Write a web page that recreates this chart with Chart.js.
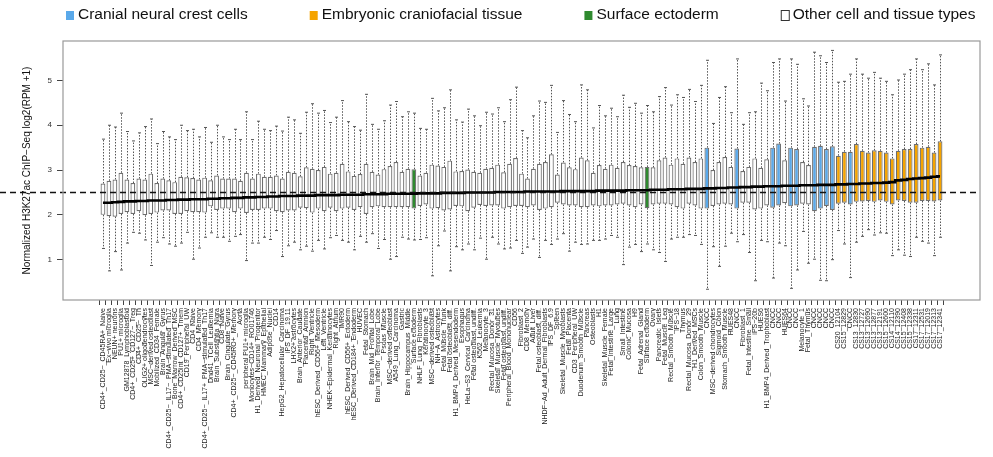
<!DOCTYPE html>
<html>
<head>
<meta charset="utf-8">
<script src="https://cdn.jsdelivr.net/npm/chart.js@4.4.1/dist/chart.umd.min.js"></script>
<style>
  html, body { margin: 0; padding: 0; background: #fff; }
</style>
</head>
<body>
<canvas id="boxChart" width="993" height="457"></canvas>
<script>
const categories = [
  'CD4+_CD25-_CD45RA+_Naive', 'Ex-vivo microglia', 'NEUN+ neurons', 'PU1+ microglia', 'GM12878_Lymphoblastoid',
  'CD4+_CD25+_CD127-_Treg', 'CD4+_CD25-_Th', 'OLIG2+ oligodendrocytes', 'MSC-derived osteoblast', 'Mobilized_CD34_Female',
  'Brain_Angular_Gyrus', 'CD4+_CD25-_IL17-_PMA-stimulated_Th17', 'Bone_Marrow_Derived_MSC', 'CD4+_CD25int_CD127+_Tmem', 'CD19_Peripheral_UW',
  'CD4_Naive', 'CD4_Memory', 'CD4+_CD25-_IL17+_PMA-stimulated_Th17', 'Dnd41_TCell_Leukemia', 'Brain_Substantia_Nigra',
  'CD8_Naive', 'Brain_Cingulate_Gyrus', 'CD4+_CD25-_CD45RO+_Memory', 'Aorta', 'peripheral PU1+ microglia',
  'Monocytes-CD14+_RO01746', 'H1_Derived_Neuronal_Progenitor', 'HMEC_Mammary_Epithelial', 'Adipose_Nuclei', 'CD14',
  'HepG2_Hepatocellular_Carcinoma', 'iPS_DF_19.11', 'LHX2+ astrocytes', 'Brain_Anterior_Caudate', 'Placental_Amnion',
  'Right_Ventricle', 'hESC_Derived_CD56+_Mesoderm', 'Left_Ventricle', 'NHEK-Epidermal_Keratinocytes', 'Right_Atrium',
  'IMR90', 'hESC_Derived_CD56+_Ectoderm', 'hESC_Derived_CD184+_Endoderm', 'HUVEC', 'Fetal_Stomach',
  'Brain_Mid_Frontal_Lobe', 'Brain_Inferior_Temporal_Lobe', 'Psoas_Muscle', 'MSC-derived osteoblast', 'A549_Lung_Carcinoma',
  'Gastric', 'Brain_Hippocampus_Middle', 'Surface ectoderm', 'NHLF_Lung_Fibroblasts', 'Keratinocyte_3',
  'MSC-derived osteoblast', 'NH-A_Astrocytes', 'Fetal_Muscle_Trunk', 'Fetal osteoblast, diff.', 'H1_BMP4_Derived_Mesendoderm',
  'Esophagus', 'HeLa-S3_Cervical_Carcinoma', 'Fetal osteoblast, undiff.', 'K562_Leukemia', 'Melanocyte_3',
  'Rectal_Mucosa_Donor_31', 'Skeletal_Muscle_Myotubes', 'Fetal osteoblast, undiff.', 'Peripheral_Blood_Mononuclear', 'CD56',
  'Fibroblast_2', 'CD8_Memory', 'Adult_Liver', 'Fetal osteoblast, diff.', 'NHDF-Ad_Adult_Dermal_Fibroblasts',
  'iPS_DF_6.9', 'Spleen', 'Skeletal_Muscle_Myoblasts', 'Fetal_Placenta', 'CD3_Peripheral_UW',
  'Duodenum_Smooth_Muscle', 'Pancreas', 'Osteoblasts', 'H1', 'Skeletal_Muscle_Female',
  'Fetal_Intestine_Large', 'Lung', 'Small_Intestine', 'Colonic_Mucosa', 'H9',
  'Fetal_Adrenal_Gland', 'Surface ectoderm', 'Ovary', 'Pancreatic_Islets', 'Fetal_Muscle_Leg',
  'Rectal_Smooth_Muscle', 'iPS-18', 'Thymus', 'Rectal_Mucosa_Donor_29', 'H1_Derived_MSCs',
  'Colon_Smooth_Muscle', 'CNCC', 'MSC-derived chondrocytes', 'Sigmoid_Colon', 'Stomach_Smooth_Muscle',
  'HUES48', 'CNCC', 'Fibroblast_1', 'Fetal_Intestine_Small', 'iPS-20b',
  'HUES6', 'H1_BMP4_Derived_Trophoblast', 'CNCC', 'CNCC', 'HUES64',
  'CNCC', 'CNCC', 'Melanocyte_1', 'Fetal_Thymus', 'CNCC',
  'CNCC', 'CNCC', 'CNCC', 'CS20_12104', 'CS15_12829',
  'CNCC', 'CS13_12830', 'CS13_12727', 'CS13_12690', 'CS13_12877',
  'CS13_12191', 'CS15_12600', 'CS14_12110', 'CS14_12390', 'CS15_12408',
  'CS15_12338', 'CS17_12311', 'CS17_12531', 'CS17_12019', 'CS17_12313',
  'CS17_12341'
];

const whiskerHigh = [
  3.69, 4.00, 3.96, 4.27, 3.86, 3.65, 3.83, 3.97, 4.14, 3.59,
  3.86, 3.74, 3.68, 4.00, 3.88, 3.91, 3.74, 3.95, 3.62, 4.00,
  3.74, 3.68, 3.91, 3.68, 4.30, 3.68, 4.09, 3.91, 3.88, 3.98,
  3.87, 4.18, 4.12, 3.82, 4.29, 4.48, 4.27, 4.33, 4.06, 4.18,
  4.55, 4.08, 3.97, 3.89, 4.69, 4.02, 3.91, 4.10, 4.45, 4.53,
  4.19, 4.30, 4.27, 3.93, 3.91, 4.60, 4.32, 4.39, 4.79, 4.12,
  4.07, 4.36, 4.21, 3.99, 4.29, 4.25, 4.39, 4.08, 4.57, 4.85,
  3.88, 3.72, 4.21, 4.54, 4.51, 4.89, 3.84, 4.55, 4.24, 4.08,
  4.90, 4.79, 3.94, 4.44, 4.21, 4.38, 4.19, 4.67, 4.40, 4.49,
  4.27, 4.44, 4.30, 4.64, 4.84, 4.45, 4.68, 4.62, 4.80, 4.53,
  4.89, 5.45, 4.04, 4.62, 4.86, 4.28, 5.48, 4.02, 4.28, 4.30,
  4.94, 4.77, 5.40, 5.48, 4.54, 5.48, 5.36, 4.59, 4.43, 5.63,
  5.55, 5.40, 5.67, 4.96, 4.98, 5.14, 5.48, 5.14, 5.05, 5.18,
  5.05, 4.98, 4.68, 5.01, 5.14, 5.24, 5.48, 5.24, 5.37, 4.90,
  5.57
];

const q3 = [
  2.70, 2.76, 2.79, 2.94, 2.79, 2.71, 2.81, 2.79, 2.92, 2.71,
  2.81, 2.77, 2.73, 2.85, 2.84, 2.82, 2.79, 2.83, 2.77, 2.88,
  2.81, 2.81, 2.81, 2.76, 2.94, 2.81, 2.92, 2.85, 2.85, 2.88,
  2.81, 2.96, 2.94, 2.86, 3.06, 3.03, 3.00, 3.07, 2.92, 2.94,
  3.14, 2.97, 2.87, 2.91, 3.14, 2.96, 2.90, 3.02, 3.09, 3.18,
  2.96, 3.03, 3.02, 2.88, 2.94, 3.12, 3.10, 3.07, 3.21, 2.97,
  2.98, 3.01, 2.96, 2.94, 3.03, 3.05, 3.12, 2.95, 3.14, 3.27,
  2.92, 2.81, 3.03, 3.14, 3.18, 3.35, 2.90, 3.17, 3.06, 3.02,
  3.28, 3.22, 2.94, 3.11, 3.03, 3.12, 3.05, 3.18, 3.11, 3.09,
  3.06, 3.07, 3.06, 3.22, 3.28, 3.12, 3.26, 3.14, 3.28, 3.18,
  3.26, 3.50, 3.00, 3.18, 3.29, 3.07, 3.48, 2.98, 3.07, 3.26,
  3.05, 3.24, 3.50, 3.59, 3.22, 3.50, 3.47, 3.18, 3.11, 3.52,
  3.54, 3.47, 3.53, 3.32, 3.41, 3.41, 3.58, 3.43, 3.39, 3.44,
  3.43, 3.39, 3.26, 3.43, 3.47, 3.47, 3.58, 3.50, 3.52, 3.39,
  3.64
];

const medians = [
  2.27, 2.27, 2.28, 2.29, 2.30, 2.30, 2.31, 2.31, 2.32, 2.32,
  2.32, 2.33, 2.33, 2.34, 2.34, 2.35, 2.35, 2.35, 2.36, 2.36,
  2.37, 2.37, 2.38, 2.38, 2.39, 2.39, 2.40, 2.40, 2.41, 2.41,
  2.42, 2.42, 2.42, 2.43, 2.43, 2.43, 2.44, 2.44, 2.44, 2.44,
  2.45, 2.45, 2.45, 2.45, 2.46, 2.46, 2.46, 2.46, 2.47, 2.47,
  2.47, 2.47, 2.47, 2.48, 2.48, 2.48, 2.48, 2.49, 2.49, 2.49,
  2.49, 2.50, 2.50, 2.50, 2.50, 2.50, 2.51, 2.51, 2.51, 2.51,
  2.51, 2.52, 2.52, 2.52, 2.52, 2.52, 2.52, 2.53, 2.53, 2.53,
  2.53, 2.53, 2.53, 2.54, 2.54, 2.54, 2.54, 2.54, 2.55, 2.55,
  2.55, 2.55, 2.56, 2.56, 2.56, 2.57, 2.57, 2.57, 2.58, 2.58,
  2.58, 2.59, 2.59, 2.60, 2.60, 2.61, 2.61, 2.62, 2.62, 2.63,
  2.63, 2.64, 2.64, 2.64, 2.65, 2.65, 2.65, 2.66, 2.66, 2.66,
  2.67, 2.67, 2.67, 2.68, 2.68, 2.69, 2.69, 2.70, 2.70, 2.71,
  2.71, 2.72, 2.73, 2.77, 2.78, 2.80, 2.81, 2.82, 2.83, 2.85,
  2.86
];

const q1 = [
  2.00, 1.97, 1.96, 2.02, 2.06, 2.02, 2.08, 1.99, 2.02, 2.05,
  2.10, 2.10, 2.02, 2.02, 2.08, 2.06, 2.06, 2.05, 2.19, 2.11,
  2.14, 2.14, 2.06, 2.14, 2.04, 2.11, 2.11, 2.14, 2.14, 2.08,
  2.06, 2.10, 2.10, 2.16, 2.15, 2.05, 2.14, 2.08, 2.16, 2.08,
  2.14, 2.16, 2.11, 2.17, 2.02, 2.17, 2.19, 2.17, 2.17, 2.17,
  2.17, 2.17, 2.14, 2.20, 2.23, 2.14, 2.15, 2.10, 2.12, 2.20,
  2.19, 2.08, 2.16, 2.22, 2.20, 2.21, 2.21, 2.14, 2.17, 2.20,
  2.20, 2.17, 2.21, 2.11, 2.14, 2.17, 2.27, 2.23, 2.21, 2.21,
  2.17, 2.17, 2.21, 2.19, 2.21, 2.21, 2.23, 2.25, 2.21, 2.17,
  2.23, 2.15, 2.23, 2.25, 2.25, 2.23, 2.17, 2.14, 2.25, 2.21,
  2.14, 2.14, 2.20, 2.23, 2.25, 2.23, 2.14, 2.27, 2.27, 2.12,
  2.14, 2.21, 2.16, 2.21, 2.26, 2.19, 2.21, 2.25, 2.23, 2.08,
  2.14, 2.20, 2.11, 2.25, 2.27, 2.23, 2.29, 2.30, 2.31, 2.29,
  2.32, 2.29, 2.23, 2.32, 2.31, 2.27, 2.27, 2.31, 2.31, 2.30,
  2.32
];

const whiskerLow = [
  1.25, 0.75, 1.18, 0.77, 1.37, 1.61, 1.59, 1.44, 0.87, 1.39,
  1.49, 1.35, 1.30, 1.37, 1.61, 1.01, 1.26, 1.50, 1.60, 1.50,
  1.50, 1.41, 1.52, 1.56, 0.98, 1.37, 1.37, 1.50, 1.45, 1.65,
  1.07, 1.31, 1.39, 1.22, 1.30, 1.19, 1.43, 1.24, 1.49, 1.54,
  1.43, 1.39, 1.22, 1.52, 1.39, 1.58, 1.25, 1.45, 1.01, 1.07,
  1.50, 1.46, 1.44, 1.45, 1.49, 0.64, 1.31, 1.64, 0.75, 1.29,
  1.22, 1.35, 1.22, 1.48, 1.01, 1.50, 1.35, 1.24, 1.26, 1.43,
  1.14, 1.28, 1.46, 1.05, 1.43, 1.34, 1.46, 1.58, 1.19, 1.39,
  1.34, 1.35, 1.43, 1.43, 1.46, 1.54, 1.50, 0.89, 1.28, 1.34,
  1.18, 1.35, 1.22, 1.16, 0.96, 1.46, 1.50, 1.50, 1.56, 1.54,
  1.34, 0.34, 1.29, 0.85, 1.30, 1.59, 1.40, 1.56, 1.16, 0.53,
  1.43, 1.40, 0.59, 1.37, 1.31, 0.36, 0.77, 1.63, 0.92, 1.01,
  0.54, 0.53, 1.00, 1.65, 1.35, 0.60, 1.39, 1.52, 1.67, 1.55,
  1.60, 1.59, 1.09, 1.22, 1.10, 1.07, 1.50, 1.41, 1.37, 1.09,
  1.50
];

const yTicks = [1, 2, 3, 4, 5];
const refLine = 2.5;

const legendItems = [
  { text: 'Cranial neural crest cells', fill: '#5aa9ea' },
  { text: 'Embryonic craniofacial tissue', fill: '#f5a400' },
  { text: 'Surface ectoderm', fill: '#2f8a2f' },
  { text: 'Other cell and tissue types', fill: '#ffffff' }
];

const FONT = "'Liberation Sans', Arial, Helvetica, sans-serif";

function boxColor(name) {
  if (name === 'CNCC') return '#5aa9ea';
  if (name === 'Surface ectoderm') return '#2f8a2f';
  if (/^CS\d/.test(name)) return '#f5a400';
  return '#ffffff';
}

// whiskers go under the boxes, dashed 2.5 line on top of everything
const boxExtras = {
  id: 'boxExtras',
  beforeDatasetsDraw(chart) {
    const { ctx, scales: { x, y } } = chart;
    ctx.save();
    ctx.strokeStyle = '#555';
    ctx.lineWidth = 1;
    categories.forEach((c, i) => {
      const px = Math.round(x.getPixelForValue(i + 1)) + 0.5;
      ctx.setLineDash([1.5, 1.5]);
      ctx.beginPath();
      ctx.moveTo(px, y.getPixelForValue(q3[i]));
      ctx.lineTo(px, y.getPixelForValue(whiskerHigh[i]));
      ctx.moveTo(px, y.getPixelForValue(q1[i]));
      ctx.lineTo(px, y.getPixelForValue(whiskerLow[i]));
      ctx.stroke();
      ctx.setLineDash([]);
      ctx.beginPath();
      const hi = y.getPixelForValue(whiskerHigh[i]);
      const lo = y.getPixelForValue(whiskerLow[i]);
      ctx.moveTo(px - 1.5, hi); ctx.lineTo(px + 1.5, hi);
      ctx.moveTo(px - 1.5, lo); ctx.lineTo(px + 1.5, lo);
      ctx.stroke();
    });
    ctx.restore();
  },
  afterDatasetsDraw(chart) {
    const { ctx, chartArea, scales: { y } } = chart;
    ctx.save();
    const py = y.getPixelForValue(refLine);
    ctx.strokeStyle = '#111';
    ctx.lineWidth = 1.5;
    ctx.setLineDash([6, 4]);
    ctx.beginPath();
    ctx.moveTo(0, py);
    ctx.lineTo(chart.width - 15, py);
    ctx.stroke();
    ctx.setLineDash([]);
    // plot frame
    ctx.strokeStyle = '#999';
    ctx.lineWidth = 1.2;
    ctx.strokeRect(chartArea.left, chartArea.top, chartArea.right - chartArea.left, chartArea.bottom - chartArea.top);
    ctx.restore();
  },
  afterDraw(chart) {
    const { ctx } = chart;
    ctx.save();
    ctx.font = '15.5px ' + FONT;
    ctx.textBaseline = 'middle';
    let cx = 66;
    const cy = 15;
    legendItems.forEach(item => {
      ctx.fillStyle = item.fill;
      ctx.fillRect(cx, cy - 4, 8, 9);
      if (item.fill === '#ffffff') {
        ctx.strokeStyle = '#333';
        ctx.lineWidth = 1;
        ctx.strokeRect(cx + 0.5, cy - 4.5, 8, 10);
      }
      ctx.fillStyle = '#111';
      ctx.fillText(item.text, cx + 12, cy);
      cx += 12 + ctx.measureText(item.text).width + 62;
    });
    ctx.restore();
  }
};

new Chart(document.getElementById('boxChart'), {
  data: {
    datasets: [
      {
        type: 'bar',
        data: categories.map((c, i) => ({ x: i + 1, y: [q1[i], q3[i]] })),
        backgroundColor: categories.map(boxColor),
        borderColor: '#6e6e6e',
        borderWidth: 1.2,
        borderSkipped: false,
        barPercentage: 0.8,
        categoryPercentage: 1,
        order: 2
      },
      {
        type: 'line',
        data: categories.map((c, i) => ({ x: i + 1, y: medians[i] })),
        borderColor: '#000',
        borderWidth: 2.6,
        pointRadius: 0,
        stepped: 'middle',
        order: 1
      }
    ]
  },
  options: {
    responsive: false,
    animation: false,
    devicePixelRatio: 1,
    events: [],
    layout: { padding: { top: 41, right: 13, left: 0, bottom: 0 } },
    plugins: { legend: { display: false }, tooltip: { enabled: false } },
    scales: {
      x: {
        type: 'linear',
        min: -5.14,
        max: 147.14,
        afterBuildTicks: s => { s.ticks = categories.map((c, i) => ({ value: i + 1 })); },
        afterFit: s => { s.height = 157; },
        grid: { drawOnChartArea: false, tickLength: 5, color: '#444' },
        border: { display: false },
        ticks: {
          autoSkip: false,
          minRotation: 90,
          maxRotation: 90,
          padding: 3,
          color: '#222',
          font: { size: 7, family: FONT },
          callback: v => (categories[v - 1] || '').replace(/-/g, '\u2212')
        }
      },
      y: {
        min: 0.1,
        max: 5.88,
        afterBuildTicks: s => { s.ticks = yTicks.map(v => ({ value: v })); },
        afterFit: s => { s.width = 63; },
        grid: { drawOnChartArea: false, tickLength: 6, color: '#444' },
        border: { display: false },
        ticks: { padding: 5, color: '#333', font: { size: 8, family: FONT } },
        title: {
          display: true,
          text: 'Normalized H3K27ac ChIP\u2212Seq log2(RPM +1)',
          color: '#111',
          font: { size: 10, family: FONT },
          padding: { top: 21, bottom: 0 }
        }
      }
    }
  },
  plugins: [boxExtras]
});
</script>
</body>
</html>
